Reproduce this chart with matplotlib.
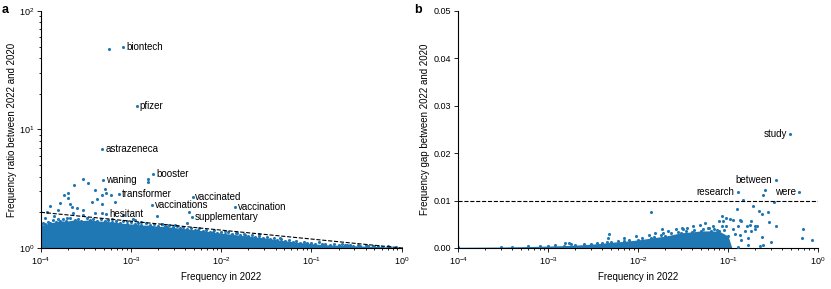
import matplotlib
matplotlib.use("Agg")
import matplotlib.pyplot as plt
from matplotlib.ticker import FixedLocator, LogLocator, NullFormatter

plt.rcParams['font.family'] = ['Liberation Sans', 'DejaVu Sans']
plt.rcParams['mathtext.default'] = 'regular'
plt.rcParams['font.size'] = 7

blue = '#1f77b4'

# panel a: labelled words (freq 2022, ratio 2022/2020)
a_words = ['biontech', 'pfizer', 'astrazeneca', 'waning', 'booster', 'transformer',
           'vaccinated', 'vaccinations', 'vaccination', 'hesitant', 'supplementary']
a_word_x = [8.2e-4, 1.16e-3, 4.8e-4, 4.9e-4, 1.76e-3, 7.3e-4, 4.8e-3, 1.7e-3, 1.41e-2, 5.3e-4, 4.7e-3]
a_word_y = [49.4, 15.8, 6.85, 3.77, 4.19, 2.86, 2.71, 2.29, 2.22, 1.95, 1.82]

# panel a: other points outside the dense cloud
a_pts_x = [5.7e-4, 1.52e-3, 1.52e-3, 4.34e-3, 1.95e-3, 2.94e-4, 3.34e-4, 2.32e-4, 2.01e-4,
           1.8e-4, 2.01e-4, 1.63e-4, 1.26e-4, 2.1e-4, 2.19e-4, 2.52e-4, 2.94e-4, 1.56e-4,
           1.16e-4, 3.97e-4, 5.13e-4, 5.3e-4, 4.71e-4, 5.97e-4, 4.15e-4, 3.65e-4, 4.71e-4,
           3.97e-4, 4.71e-4, 2.94e-4, 1.93e-4, 2.28e-4, 6.6e-4, 1.05e-3, 1.1e-3, 8.2e-4,
           2.18e-3, 2.47e-3, 4.12e-3, 5.55e-3, 8.13e-3, 1.48e-2, 1.83e-2, 0.483, 1.1e-4,
           1.4e-4, 6.2e-4, 9.0e-4, 1.3e-3, 3.1e-3, 1.1e-2, 2.6e-2, 4.5e-2, 0.12, 0.25]
a_pts_y = [47.5, 3.82, 3.58, 2.0, 1.87, 3.8, 3.54, 3.42, 2.93,
           2.8, 2.63, 2.38, 2.26, 2.34, 2.23, 2.16, 2.09, 2.09,
           2.02, 3.09, 3.13, 2.93, 2.79, 2.8, 2.58, 2.46, 2.35,
           1.96, 1.96, 1.9, 1.78, 1.96, 2.46, 1.75, 1.72, 1.9,
           1.59, 1.51, 1.62, 1.42, 1.37, 1.33, 1.29, 1.04, 1.8,
           1.85, 1.75, 1.7, 1.65, 1.55, 1.4, 1.3, 1.22, 1.12, 1.06]

# panel a: upper edge of the dense cloud
a_env_x = [1e-4, 1.1e-4, 1.26e-4, 1.45e-4, 1.63e-4, 1.9e-4, 2.38e-4, 2.8e-4, 3.5e-4, 4.2e-4,
           5.1e-4, 6.2e-4, 7.5e-4, 9e-4, 1.1e-3, 1.3e-3, 1.62e-3, 2.0e-3, 2.37e-3, 2.9e-3,
           3.47e-3, 4.2e-3, 5.1e-3, 6.2e-3, 7.5e-3, 9e-3, 1.1e-2, 1.3e-2, 1.6e-2, 2.0e-2,
           2.36e-2, 2.9e-2, 3.45e-2, 4.2e-2, 5.1e-2, 6.2e-2, 7.4e-2, 9e-2, 0.109, 0.13,
           0.16, 0.2, 0.235, 0.29, 0.345, 0.42, 0.5, 0.6, 0.74, 0.86, 1.0]
a_env_y = [1.55, 1.58, 1.63, 1.66, 1.7, 1.68, 1.73, 1.7, 1.73, 1.69,
           1.68, 1.66, 1.63, 1.6, 1.59, 1.56, 1.56, 1.52, 1.53, 1.49,
           1.47, 1.45, 1.42, 1.4, 1.37, 1.35, 1.32, 1.31, 1.28, 1.26,
           1.24, 1.22, 1.2, 1.17, 1.15, 1.13, 1.11, 1.1, 1.08, 1.07,
           1.06, 1.055, 1.05, 1.045, 1.04, 1.035, 1.03, 1.025, 1.02, 1.01, 1.0]

# panel a: ragged points just above the cloud edge
a_edge_x = [1.05e-4, 1.2e-4, 1.35e-4, 1.55e-4, 1.75e-4, 2.1e-4, 2.6e-4, 3.2e-4, 3.8e-4, 4.6e-4,
            5.6e-4, 6.8e-4, 8.2e-4, 1.0e-3, 1.2e-3, 1.45e-3, 1.8e-3, 2.2e-3, 2.65e-3, 3.2e-3,
            3.8e-3, 4.6e-3, 5.6e-3, 6.8e-3, 8.2e-3, 1e-2, 1.2e-2, 1.45e-2, 1.8e-2, 2.2e-2,
            2.65e-2, 3.2e-2, 3.8e-2, 4.6e-2, 5.6e-2, 6.8e-2, 8.2e-2, 0.1, 0.14, 0.18,
            0.22, 0.27, 0.33, 0.4, 0.55, 0.7]
a_edge_y = [1.62, 1.66, 1.72, 1.75, 1.74, 1.78, 1.76, 1.8, 1.75, 1.77,
            1.72, 1.7, 1.68, 1.66, 1.63, 1.62, 1.58, 1.6, 1.55, 1.52,
            1.51, 1.48, 1.46, 1.42, 1.41, 1.37, 1.36, 1.33, 1.3, 1.29,
            1.26, 1.24, 1.21, 1.19, 1.17, 1.14, 1.13, 1.11, 1.09, 1.08,
            1.07, 1.06, 1.055, 1.05, 1.04, 1.03]

# dashed threshold line in panel a
a_line_x = [1e-4, 1.0]
a_line_y = [2.0, 1.0]

# panel b: labelled words (freq 2022, gap 2022-2020)
b_words = ['study', 'between', 'research', 'were']
b_word_x = [0.493, 0.336, 0.129, 0.615]
b_word_y = [0.0240, 0.0144, 0.0118, 0.0119]

# panel b: other scattered points
b_pts_x = [0.26, 0.247, 0.147, 0.324, 0.0139, 0.126, 0.19, 0.218, 0.236, 0.28, 0.285, 0.338,
           0.683, 0.66, 0.85, 0.0845, 0.0866, 0.0956, 0.104, 0.112, 0.134, 0.129, 0.14, 0.16,
           0.174, 0.18, 0.197, 0.21, 0.134, 0.14, 0.167, 0.167, 0.129, 0.225, 0.245, 0.24,
           0.18, 0.154, 0.113, 0.0845, 0.079, 0.0685, 0.0552, 0.0485, 0.0406, 0.0346, 0.0316,
           0.00475, 0.0046, 0.0133, 0.0182, 0.019, 0.0215, 0.026, 0.031, 0.0153, 0.00153,
           0.0017, 0.0956, 0.12, 0.2, 0.3, 0.0095, 0.007, 0.062, 0.075]
b_pts_y = [0.0123, 0.0112, 0.0101, 0.0098, 0.0076, 0.0082, 0.0089, 0.0079, 0.0072, 0.0076, 0.0054, 0.0046,
           0.0041, 0.0022, 0.0017, 0.0067, 0.0056, 0.0063, 0.0061, 0.0060, 0.0060, 0.0046, 0.0056, 0.0046,
           0.0049, 0.0056, 0.0046, 0.0046, 0.0028, 0.0017, 0.0021, 0.0007, 0.0003, 0.0005, 0.0007, 0.0024,
           0.0035, 0.0035, 0.0039, 0.0046, 0.0056, 0.0046, 0.0053, 0.0049, 0.0046, 0.0042, 0.0040,
           0.0030, 0.0021, 0.0028, 0.0039, 0.0032, 0.0035, 0.0039, 0.0042, 0.0032, 0.0011,
           0.0011, 0.0046, 0.0030, 0.0040, 0.0012, 0.0026, 0.0022, 0.0042, 0.0038]

# panel b: upper edge of the dense cloud
b_env_x = [1e-4, 3e-4, 6e-4, 1e-3, 1.5e-3, 2e-3, 3e-3, 4e-3, 5e-3, 7e-3,
           1e-2, 1.4e-2, 2e-2, 3e-2, 4e-2, 5e-2, 6.5e-2, 8e-2, 0.1, 0.11]
b_env_y = [0.00015, 0.0002, 0.0003, 0.0004, 0.0005, 0.0006, 0.0008, 0.001, 0.0012, 0.0014,
           0.0017, 0.0021, 0.0025, 0.0032, 0.0034, 0.0036, 0.0036, 0.0035, 0.0025, 0.0]

# panel b: ragged points just above the cloud edge
b_edge_x = [4e-4, 6e-4, 8e-4, 1.2e-3, 1.8e-3, 2.5e-3, 3.5e-3, 4.5e-3, 6e-3, 8e-3,
            1.1e-2, 1.5e-2, 1.8e-2, 2.3e-2, 2.8e-2, 3.4e-2, 4.2e-2, 5.2e-2, 6e-2, 7e-2, 9e-2]
b_edge_y = [0.0003, 0.0004, 0.0005, 0.0006, 0.0008, 0.0009, 0.0011, 0.0013, 0.0015, 0.0017,
            0.0021, 0.0024, 0.0028, 0.0031, 0.0033, 0.0036, 0.0038, 0.0040, 0.0043, 0.0041, 0.0037]

b_line_y = 0.01


def style_axis(ax):
    ax.spines['top'].set_visible(False)
    ax.spines['right'].set_visible(False)
    ax.spines['left'].set_linewidth(0.8)
    ax.spines['bottom'].set_linewidth(0.8)
    ax.tick_params(which='both', direction='out', labelsize=6.5, width=0.6, pad=2)
    ax.tick_params(which='major', length=3)
    ax.tick_params(which='minor', length=1.6)
    ax.set_xscale('log')
    ax.set_xlim(1e-4, 1)
    ax.xaxis.set_major_locator(FixedLocator([1e-4, 1e-3, 1e-2, 1e-1, 1]))
    ax.xaxis.set_minor_locator(LogLocator(base=10, subs=range(2, 10), numticks=20))
    ax.xaxis.set_minor_formatter(NullFormatter())
    ax.set_xlabel('Frequency in 2022', fontsize=7, labelpad=4)


fig = plt.figure(figsize=(8.31, 2.89), dpi=100)
ax1 = fig.add_axes([0.0493, 0.142, 0.434, 0.820])
ax2 = fig.add_axes([0.5515, 0.142, 0.433, 0.820])

# ---- panel a ----
ax1.fill_between(a_env_x, 1, a_env_y, color=blue, linewidth=0, zorder=2)
ax1.scatter(a_env_x, a_env_y, s=5, color=blue, linewidths=0, zorder=2)
ax1.scatter(a_edge_x, a_edge_y, s=5, color=blue, linewidths=0, zorder=2)
ax1.scatter(a_pts_x, a_pts_y, s=5, color=blue, linewidths=0, zorder=3)
ax1.scatter(a_word_x, a_word_y, s=5, color=blue, linewidths=0, zorder=3)
ax1.plot(a_line_x, a_line_y, color='black', linestyle='--', linewidth=0.8, zorder=4)
for w, x, y in zip(a_words, a_word_x, a_word_y):
    ax1.annotate(w, (x, y), xytext=(2, 0), textcoords='offset points',
                 ha='left', va='center', fontsize=7)
style_axis(ax1)
ax1.set_yscale('log')
ax1.set_ylim(1, 100)
ax1.yaxis.set_major_locator(FixedLocator([1, 10, 100]))
ax1.yaxis.set_minor_locator(LogLocator(base=10, subs=range(2, 10), numticks=10))
ax1.yaxis.set_minor_formatter(NullFormatter())
ax1.set_ylabel('Frequency ratio between 2022 and 2020', fontsize=7, labelpad=1)

# ---- panel b ----
ax2.fill_between(b_env_x, 0, b_env_y, color=blue, linewidth=0, zorder=2)
ax2.scatter(b_env_x[:-1], b_env_y[:-1], s=5, color=blue, linewidths=0, zorder=2)
ax2.scatter(b_edge_x, b_edge_y, s=5, color=blue, linewidths=0, zorder=2)
ax2.scatter(b_pts_x, b_pts_y, s=5, color=blue, linewidths=0, zorder=3)
ax2.scatter(b_word_x, b_word_y, s=5, color=blue, linewidths=0, zorder=3)
ax2.axhline(b_line_y, color='black', linestyle='--', linewidth=0.8, zorder=4)
for w, x, y in zip(b_words, b_word_x, b_word_y):
    ax2.annotate(w, (x, y), xytext=(-2.5, 0), textcoords='offset points',
                 ha='right', va='center', fontsize=7)
style_axis(ax2)
ax2.set_ylim(0, 0.05)
ax2.set_yticks([0, 0.01, 0.02, 0.03, 0.04, 0.05])
ax2.set_yticklabels(['0.00', '0.01', '0.02', '0.03', '0.04', '0.05'])
ax2.set_ylabel('Frequency gap between 2022 and 2020', fontsize=7, labelpad=3)

fig.text(0.002, 0.985, 'a', fontsize=9, fontweight='bold', va='top')
fig.text(0.499, 0.985, 'b', fontsize=9, fontweight='bold', va='top')

fig.savefig('out.png', dpi=100)
